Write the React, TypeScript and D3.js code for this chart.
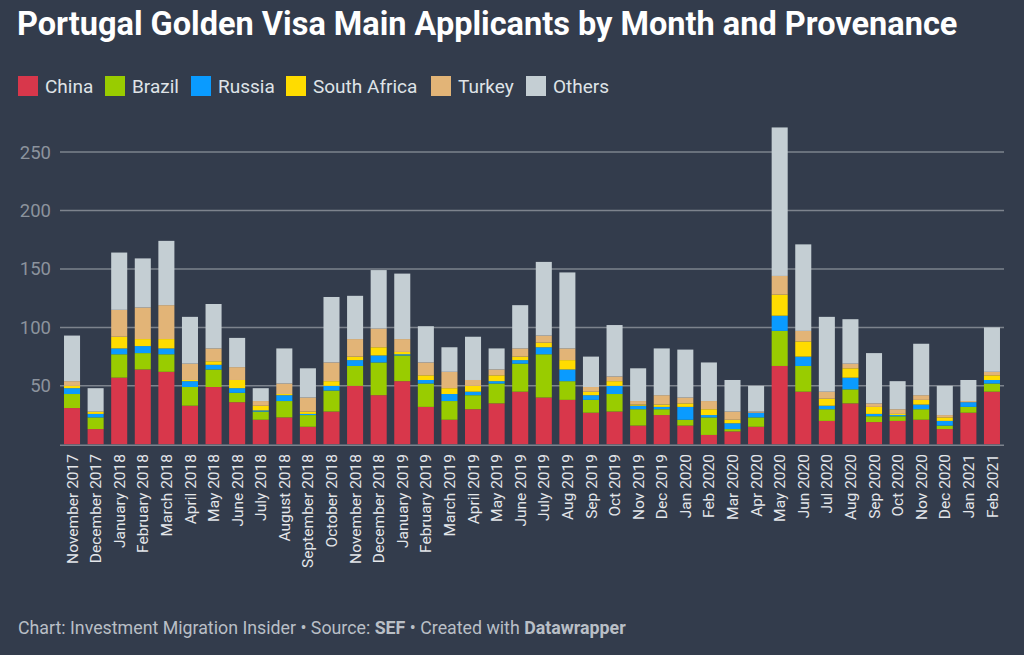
import React from "react";
import * as d3 from "d3";

const months = [
  "November 2017", "December 2017", "January 2018", "February 2018", "March 2018", "April 2018",
  "May 2018", "June 2018", "July 2018", "August 2018", "September 2018", "October 2018",
  "November 2018", "December 2018", "January 2019", "February 2019", "March 2019", "April 2019",
  "May 2019", "June 2019", "July 2019", "Aug 2019", "Sep 2019", "Oct 2019", "Nov 2019",
  "Dec 2019", "Jan 2020", "Feb 2020", "Mar 2020", "Apr 2020", "May 2020", "Jun 2020",
  "Jul 2020", "Aug 2020", "Sep 2020", "Oct 2020", "Nov 2020", "Dec 2020", "Jan 2021", "Feb 2021",
];

const china = [31, 13, 57, 64, 62, 33, 49, 36, 21, 23, 15, 28, 50, 42, 54, 32, 21, 30, 35, 45, 40, 38, 27, 28, 16, 25, 16, 8, 11, 15, 67, 45, 20, 35, 19, 20, 21, 13, 27, 45];
const brazil = [12, 10, 20, 14, 15, 16, 15, 8, 7, 14, 10, 18, 17, 28, 22, 20, 16, 12, 17, 24, 37, 16, 11, 15, 14, 5, 5, 15, 2, 8, 30, 22, 10, 12, 5, 4, 9, 3, 5, 7];
const russia = [5, 3, 5, 6, 5, 5, 4, 4, 1, 5, 1, 4, 5, 6, 1, 3, 6, 3, 2, 3, 6, 10, 4, 7, 3, 2, 11, 2, 5, 4, 13, 8, 3, 10, 2, 1, 4, 4, 4, 3];
const southAfrica = [2, 2, 10, 6, 8, 1, 3, 7, 4, 1, 2, 4, 3, 7, 2, 4, 5, 5, 5, 3, 4, 8, 3, 4, 1, 2, 3, 5, 3, 0, 18, 13, 6, 8, 6, 1, 4, 3, 0, 4];
const turkey = [4, 0, 23, 27, 29, 14, 11, 11, 4, 9, 12, 16, 15, 16, 11, 11, 14, 5, 5, 7, 6, 10, 4, 4, 3, 8, 5, 7, 7, 1, 16, 9, 6, 4, 3, 4, 4, 2, 1, 3];
const others = [39, 20, 49, 42, 55, 40, 38, 25, 11, 30, 25, 56, 37, 50, 56, 31, 21, 37, 18, 37, 63, 65, 26, 44, 28, 40, 41, 33, 27, 22, 127, 74, 64, 38, 43, 24, 44, 25, 18, 38];

const seriesNames = ["China", "Brazil", "Russia", "South Africa", "Turkey", "Others"];
const seriesColors = ["#d8374b", "#99cc00", "#0a9bff", "#ffdc00", "#e2b477", "#c4ced3"];
const yTicks = [50, 100, 150, 200, 250];

const W = 1024;
const H = 655;

export default function App() {
  const seriesValues = [china, brazil, russia, southAfrica, turkey, others];
  const rows = months.map((m, i) => {
    const r: any = { month: m };
    seriesNames.forEach((s, k) => (r[s] = seriesValues[k][i]));
    return r;
  });
  const stack = d3.stack<any>().keys(seriesNames);
  const stacked = stack(rows);

  const x = d3.scaleBand<string>().domain(months).range([60, 1004]).paddingInner(0.32).paddingOuter(0.17);
  const y = d3.scaleLinear().domain([0, 250]).range([444.3, 152]);

  const legendX = [18, 105, 191, 286, 431, 526];
  const xFont = 15.5;

  return (
    <svg
      width={W}
      height={H}
      style={{ position: "absolute", left: 0, top: 0, fontFamily: "Roboto, sans-serif" }}
    >
      <rect x={0} y={0} width={W} height={H} fill="#333c4c" />
      <text x={17} y={35} fill="#ffffff" fontSize={32.5} fontWeight={700}>
        Portugal Golden Visa Main Applicants by Month and Provenance
      </text>
      {seriesNames.map((s, k) => (
        <g key={s} transform={`translate(${legendX[k]},76)`}>
          <rect x={0} y={0} width={20} height={20} fill={seriesColors[k]} />
          <text x={27} y={16.5} fill="#dfe3e7" fontSize={19}>
            {s}
          </text>
        </g>
      ))}
      {yTicks.map((t) => (
        <g key={t}>
          <line x1={60} x2={1004} y1={y(t)} y2={y(t)} stroke="#7d838d" strokeWidth={1.5} />
          <text x={51} y={y(t) + 6.5} fill="#8c939d" fontSize={18.5} textAnchor="end">
            {t}
          </text>
        </g>
      ))}
      {stacked.map((layer, k) => (
        <g key={layer.key} fill={seriesColors[k]}>
          {layer.map((d, i) => (
            <rect
              key={i}
              x={x(months[i])}
              width={x.bandwidth()}
              y={y(d[1])}
              height={Math.max(0, y(d[0]) - y(d[1]))}
            />
          ))}
        </g>
      ))}
      <line x1={60} x2={1004} y1={y(0) + 1} y2={y(0) + 1} stroke="#7d838d" strokeWidth={1.5} />
      {months.map((m) => (
        <text
          key={m}
          transform={`translate(${(x(m) as number) + x.bandwidth() / 2 + xFont * 0.36},454) rotate(-90)`}
          textAnchor="end"
          fill="#e3e6ea"
          fontSize={xFont}
        >
          {m}
        </text>
      ))}
      <text x={18} y={634} fill="#b9bfc6" fontSize={17.8}>
        Chart: Investment Migration Insider • Source: <tspan fontWeight={700}>SEF</tspan> • Created with{" "}
        <tspan fontWeight={700}>Datawrapper</tspan>
      </text>
    </svg>
  );
}
